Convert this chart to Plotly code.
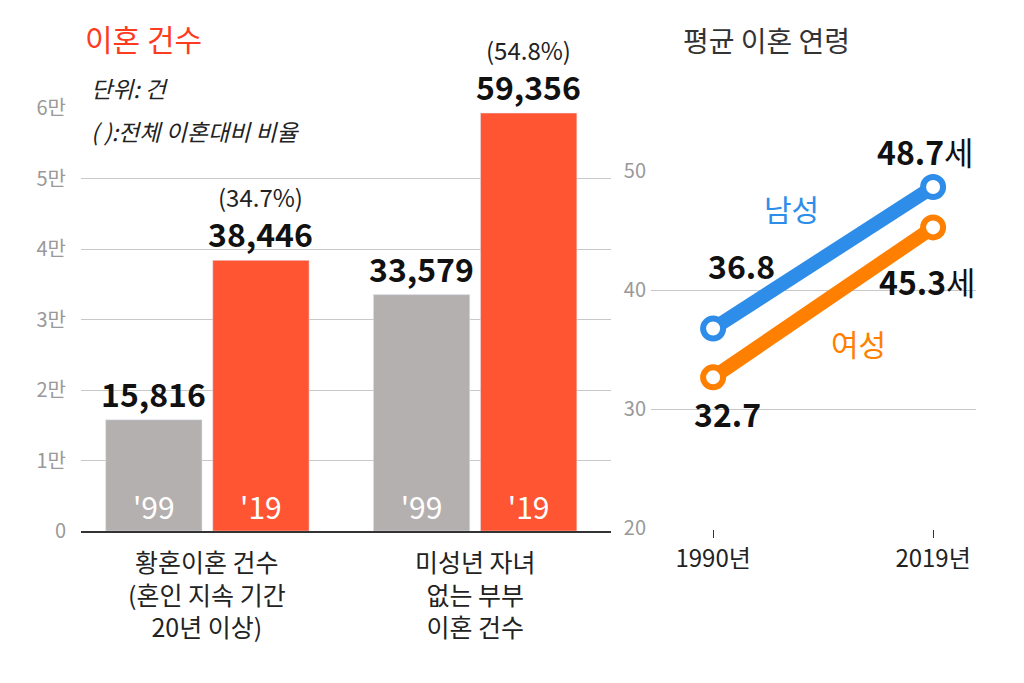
import plotly.graph_objects as go

F = "Noto Sans CJK KR"
bar_x = [1, 2, 3.5, 4.5]
bar_vals = [15816, 38446, 33579, 59356]
bar_years = ["'99", "'19", "'99", "'19"]
bar_colors = ["#b5b0b0", "#ff5533", "#b5b0b0", "#ff5533"]
bar_share = {2: "(34.7%)", 4.5: "(54.8%)"}
group_x = [1.5, 4.0]
group_labels = ["황혼이혼 건수<br>(혼인 지속 기간<br>20년 이상)", "미성년 자녀<br>없는 부부<br>이혼 건수"]
y_ticks = [0, 10000, 20000, 30000, 40000, 50000, 60000]
y_ticktext = ["0", "1만", "2만", "3만", "4만", "5만", "6만"]

years = ["1990년", "2019년"]
male = [36.8, 48.7]
female = [32.7, 45.3]

fig = go.Figure()
fig.add_bar(x=bar_x, y=bar_vals, width=0.9, marker_color=bar_colors,
            text=bar_years, textposition="inside", insidetextanchor="start",
            textfont=dict(family=F, size=30, color="white"), hoverinfo="skip")
fig.add_scatter(x=[0, 1], y=male, xaxis="x2", yaxis="y2", mode="lines+markers",
                line=dict(color="#2e8de8", width=14),
                marker=dict(size=20, color="white", line=dict(color="#2e8de8", width=6)))
fig.add_scatter(x=[0, 1], y=female, xaxis="x2", yaxis="y2", mode="lines+markers",
                line=dict(color="#ff7f00", width=14),
                marker=dict(size=20, color="white", line=dict(color="#ff7f00", width=6)))

ann = []
for x, v in zip(bar_x, bar_vals):
    ann.append(dict(x=x, y=v, xref="x", yref="y", text=f"<b>{v:,}</b>", showarrow=False,
                    yanchor="bottom", yshift=2, font=dict(family=F, size=32, color="#111")))
    if x in bar_share:
        ann.append(dict(x=x, y=v, xref="x", yref="y", text=bar_share[x], showarrow=False,
                        yanchor="bottom", yshift=44, font=dict(family=F, size=24, color="#222")))
for gx, gl in zip(group_x, group_labels):
    ann.append(dict(x=gx, y=0.209, xref="x", yref="paper", text=gl, showarrow=False,
                    yanchor="top", font=dict(family=F, size=25, color="#222")))
ann += [
    dict(x=0.073, y=0.978, xref="paper", yref="paper", text="이혼 건수", showarrow=False,
         xanchor="left", yanchor="middle", font=dict(family=F, size=30, color="#ff3b1f")),
    dict(x=0.079, y=0.9015, xref="paper", yref="paper", text="<i>단위: 건</i>", showarrow=False,
         xanchor="left", yanchor="middle", font=dict(family=F, size=23, color="#222")),
    dict(x=0.079, y=0.837, xref="paper", yref="paper", text="<i>( ):전체 이혼대비 비율</i>",
         showarrow=False, xanchor="left", yanchor="middle", font=dict(family=F, size=23, color="#222")),
    dict(x=0.657, y=0.975, xref="paper", yref="paper", text="평균 이혼 연령", showarrow=False,
         xanchor="left", yanchor="middle", font=dict(family=F, size=28, color="#333")),
    dict(x=0, y=male[0], xref="x2", yref="y2", text="<b>36.8</b>", showarrow=False,
         yshift=64, xshift=28, font=dict(family=F, size=32, color="#111")),
    dict(x=1, y=male[1], xref="x2", yref="y2", text="<b>48.7</b>세", showarrow=False,
         yshift=36, xshift=-8, font=dict(family=F, size=32, color="#111")),
    dict(x=0, y=female[0], xref="x2", yref="y2", text="<b>32.7</b>", showarrow=False,
         yshift=-36, xshift=14, font=dict(family=F, size=32, color="#111")),
    dict(x=1, y=female[1], xref="x2", yref="y2", text="<b>45.3</b>세", showarrow=False,
         yshift=-54, xshift=-6, font=dict(family=F, size=32, color="#111")),
    dict(x=0.355, y=46.96, xref="x2", yref="y2", text="남성", showarrow=False,
         font=dict(family=F, size=30, color="#2e8de8")),
    dict(x=0.66, y=35.6, xref="x2", yref="y2", text="여성", showarrow=False,
         font=dict(family=F, size=30, color="#ff7f00")),
]

fig.update_layout(
    width=1024, height=683, paper_bgcolor="white", plot_bgcolor="white",
    margin=dict(l=0, r=0, t=0, b=0), showlegend=False, annotations=ann,
    xaxis=dict(domain=[0.0713, 0.589], range=[0.32, 5.27], showticklabels=False,
               showgrid=False, zeroline=False, showline=True, linecolor="#333", linewidth=2),
    yaxis=dict(domain=[0.2246, 0.8708], range=[0, 60000], tickvals=y_ticks, ticktext=y_ticktext,
               gridcolor="#c8c8c8", zeroline=False, ticks="", ticklabelstandoff=14,
               tickfont=dict(family=F, size=20, color="#999")),
    xaxis2=dict(domain=[0.628, 0.9453], range=[-0.282, 1.195], tickvals=[0, 1], ticktext=years,
                showgrid=False, zeroline=False, ticks="outside", ticklen=8, tickcolor="#333",
                tickfont=dict(family=F, size=24, color="#222"), anchor="y2"),
    yaxis2=dict(domain=[0.2277, 0.7754], range=[19.95, 50.05], tickvals=[20, 30, 40, 50],
                anchor="x2", gridcolor="#c8c8c8", zeroline=False, ticklabelstandoff=4,
                tickfont=dict(family=F, size=20, color="#999")),
)
fig.update_traces(cliponaxis=False)
fig.write_html("out.html")
